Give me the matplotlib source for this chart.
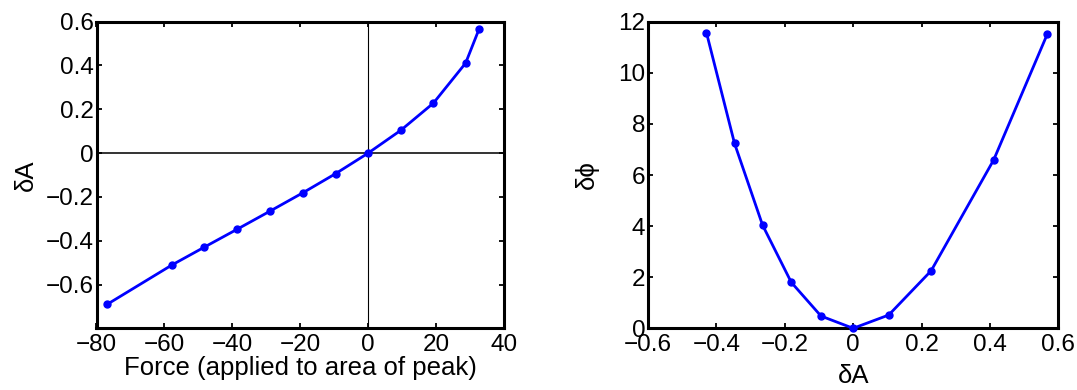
"""Force への応答 δA と δA に対する δφ の 2 パネル図。"""
import matplotlib
matplotlib.use("Agg")
import matplotlib.pyplot as plt

# 左パネル: Force -> δA
force = [-76.9, -57.8, -48.2, -38.5, -28.9, -19.2, -9.6, 0.0, 9.6, 19.2, 28.7, 32.7]
dA_force = [-0.691, -0.511, -0.429, -0.347, -0.265, -0.181, -0.094, 0.0,
            0.104, 0.228, 0.411, 0.568]

# 右パネル: δA -> δφ
dA = [-0.429, -0.347, -0.265, -0.181, -0.094, 0.0, 0.104, 0.228, 0.411, 0.568]
dphi = [11.57, 7.24, 4.04, 1.80, 0.48, 0.0, 0.52, 2.25, 6.59, 11.52]

left_xticks = [-80, -60, -40, -20, 0, 20, 40]
left_yticks = [-0.6, -0.4, -0.2, 0, 0.2, 0.4, 0.6]
right_xticks = [-0.6, -0.4, -0.2, 0, 0.2, 0.4, 0.6]
right_yticks = [0, 2, 4, 6, 8, 10, 12]

plt.rcParams["font.family"] = ["Liberation Sans", "DejaVu Sans"]
plt.rcParams["axes.unicode_minus"] = True

W, H = 1077, 390
fig = plt.figure(figsize=(W / 100, H / 100), dpi=100)
ax1 = fig.add_axes([96.5 / W, 1 - 328.3 / H, (504 - 96.5) / W, (328.3 - 21.7) / H])
ax2 = fig.add_axes([648 / W, 1 - 328.3 / H, (1058.3 - 648) / W, (328.3 - 21.7) / H])


def style(ax):
    for s in ax.spines.values():
        s.set_linewidth(2.2)
    ax.tick_params(direction="in", length=3.5, width=1.3, top=True, right=True,
                   labelsize=17.5, pad=2)
    ax.tick_params(axis="x", pad=4)


minus_labels = ["−0.6", "−0.4", "−0.2", "0", "0.2", "0.4", "0.6"]

# 左
ax1.axhline(0, color="0.2", lw=1.4, zorder=1)
ax1.axvline(0, color="k", lw=0.8, zorder=1)
ax1.plot(force, dA_force, color="#0000ff", lw=2.0, marker="o", ms=5, zorder=3)
ax1.set_xlim(-80, 40)
ax1.set_ylim(-0.8, 0.6)
ax1.set_xticks(left_xticks)
ax1.set_yticks(left_yticks)
ax1.set_yticklabels(minus_labels)
ax1.set_xlabel("Force (applied to area of peak)", fontsize=18.5, labelpad=0)
ax1.set_ylabel("δA", fontsize=18.5, labelpad=6)
style(ax1)

# 右
ax2.plot(dA, dphi, color="#0000ff", lw=2.0, marker="o", ms=5, zorder=3,
         clip_on=False)
ax2.set_xlim(-0.6, 0.6)
ax2.set_ylim(0, 12)
ax2.set_xticks(right_xticks)
ax2.set_xticklabels(minus_labels)
ax2.set_yticks(right_yticks)
ax2.set_xlabel("δA", fontsize=18.5, labelpad=6)
ax2.set_ylabel("δϕ", fontsize=18.5, labelpad=14)
style(ax2)

fig.savefig("out.png", dpi=100)
plt.close(fig)
